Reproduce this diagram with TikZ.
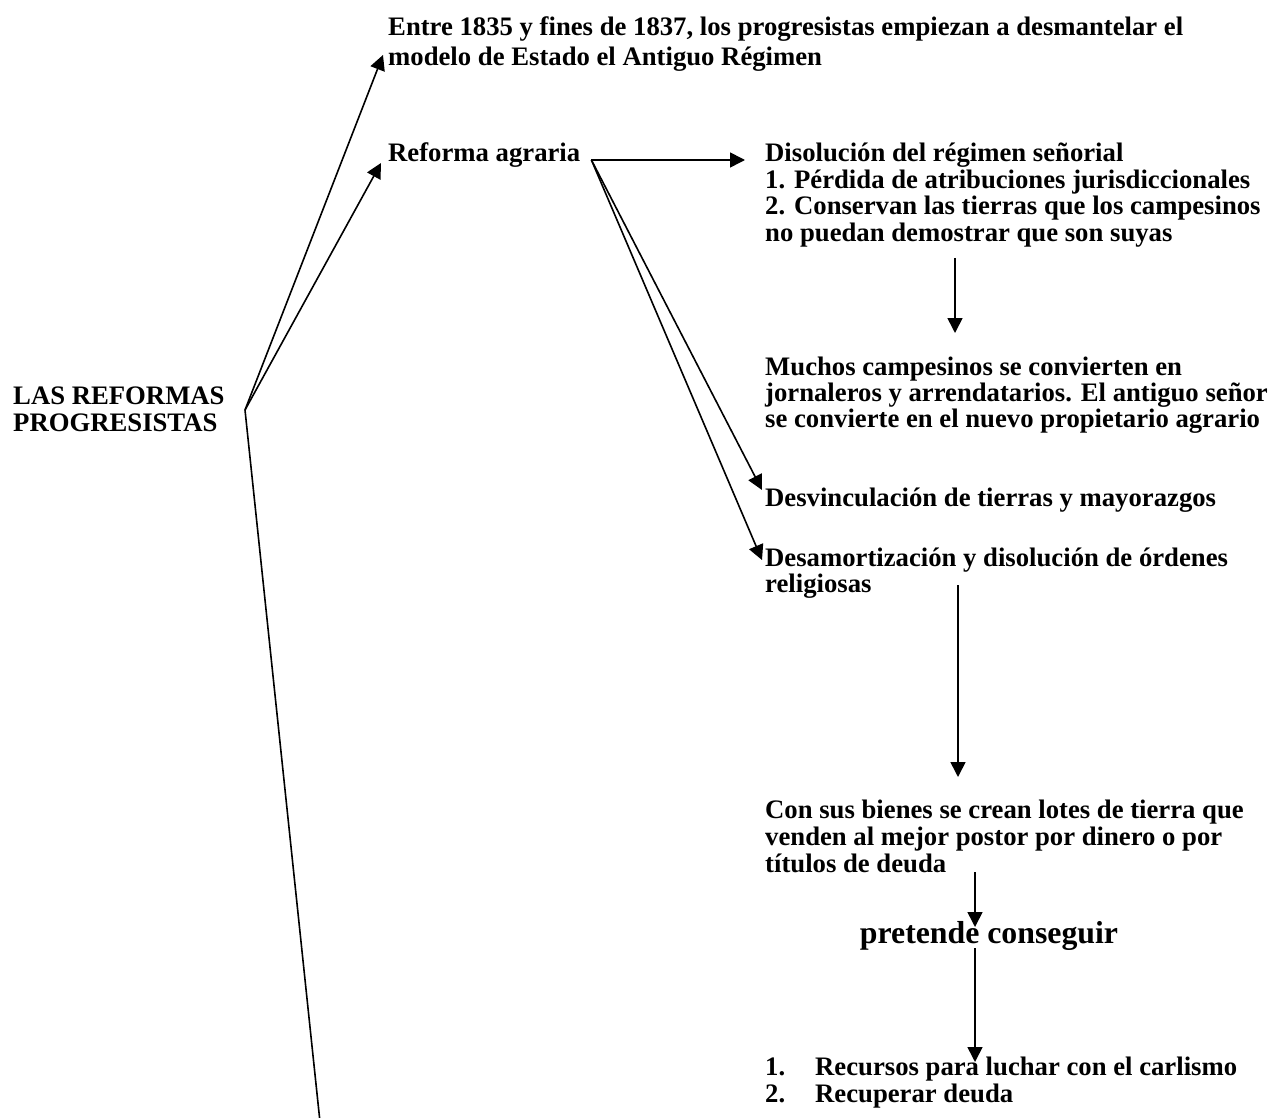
\documentclass[tikz,border=0pt]{standalone}
\usepackage{fontspec}
\setmainfont{Liberation Serif}
\usetikzlibrary{arrows.meta}
\newcommand{\mylines}[1]{\begin{tabular}[t]{@{}l@{}}#1\end{tabular}}
\begin{document}
\begin{tikzpicture}[x=1pt,y=-1pt,
  txt/.style={anchor=base west,inner sep=0pt,font=\fontsize{26.7}{26.3}\selectfont\bfseries},
  big/.style={anchor=base,inner sep=0pt,font=\fontsize{31.8}{36}\selectfont\bfseries},
  conn/.style={line width=1.6pt},
  arr/.style={conn,-{Triangle[length=15pt,width=15pt]}}]
\useasboundingbox (0,0) rectangle (1272,1118);
% texts
\node[txt] (title) at (388,36) {\renewcommand{\arraystretch}{1.12}\mylines{Entre 1835 y fines de 1837, los progresistas empiezan a desmantelar el\\ modelo de Estado el Antiguo Régimen}};
\node[txt] (ref) at (388,162) {Reforma agraria};
\node[txt] (root) at (13,404) {\renewcommand{\arraystretch}{1.03}\mylines{LAS REFORMAS\\ PROGRESISTAS}};
\node[txt] (dis) at (765,162) {\mylines{Disolución del régimen señorial\\ 1. Pérdida de atribuciones jurisdiccionales\\ 2. Conservan las tierras que los campesinos\\ no puedan demostrar que son suyas}};
\node[txt] (much) at (765,375) {\mylines{Muchos campesinos se convierten en\\ jornaleros y arrendatarios. El antiguo señor\\ se convierte en el nuevo propietario agrario}};
\node[txt] (desv) at (765,506) {Desvinculación de tierras y mayorazgos};
\node[txt] (desa) at (765,566) {\mylines{Desamortización y disolución de órdenes\\ religiosas}};
\node[txt] (con) at (765,818) {\renewcommand{\arraystretch}{1.03}\mylines{Con sus bienes se crean lotes de tierra que\\ venden al mejor postor por dinero o por\\ títulos de deuda}};
\node[big] (pre) at (989,943) {pretende conseguir};
\node[txt] (rec) at (765,1075) {\renewcommand{\arraystretch}{1.03}\begin{tabular}[t]{@{}p{50pt}@{}l@{}}1. & Recursos para luchar con el carlismo\\ 2. & Recuperar deuda\end{tabular}};
% connector points
\coordinate (hub) at (245,410);
\coordinate (low) at (320,1122);
\coordinate (rfork) at ([xshift=11pt,yshift=2pt]ref.base east);
% connectors
\draw[arr] (hub) -- ([xshift=-5pt]title.base west |- 0,55);
\draw[arr] (hub) -- ([xshift=-7pt,yshift=-1pt]ref.base west);
\draw[conn] (hub) -- (low);
\draw[arr] (rfork) -- ([xshift=-20pt]rfork -| dis.west);
\draw[arr] (rfork) -- ([xshift=-3pt,yshift=16pt]desv.base west);
\draw[arr] (rfork) -- ([xshift=-3pt,yshift=6pt]desa.base west);
\draw[arr] (955,258) -- (955,333);
\draw[arr] (958,585) -- (958,777);
\draw[arr] (975,872) -- (975,927);
\draw[arr] (975,948) -- (975,1062);
\end{tikzpicture}
\end{document}
